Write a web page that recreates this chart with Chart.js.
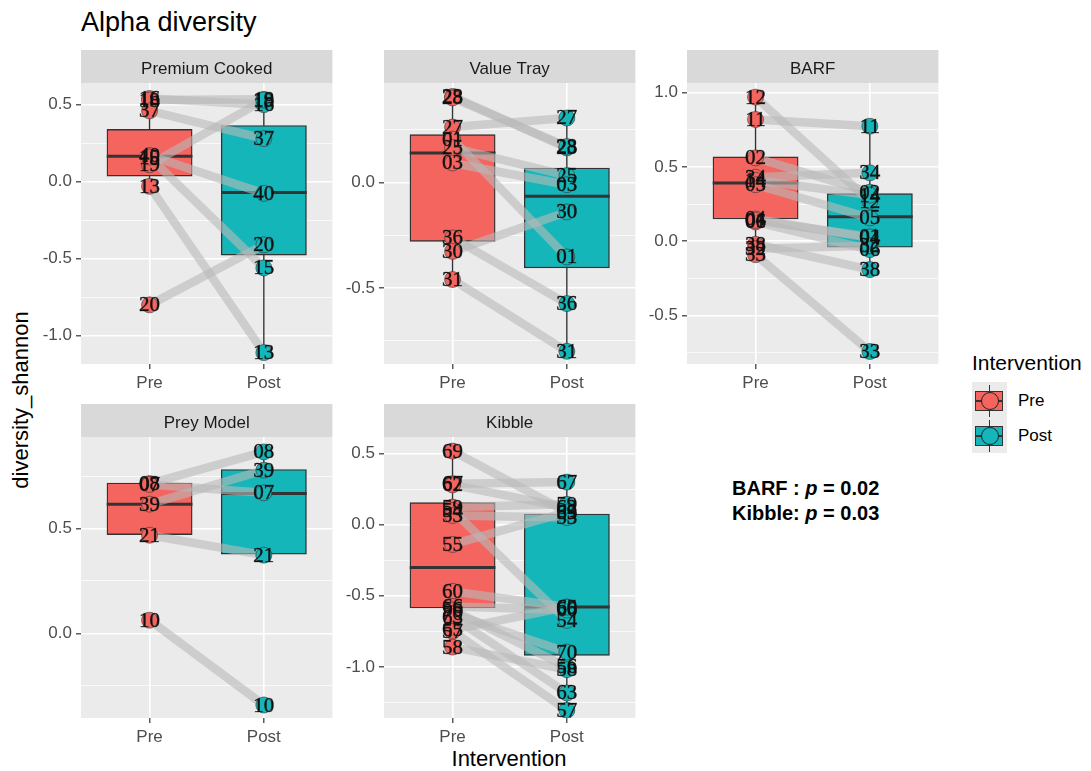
<!DOCTYPE html>
<html><head><meta charset="utf-8">
<script src="https://cdn.jsdelivr.net/npm/chart.js@4.4.1/dist/chart.umd.min.js"></script>
<style>
html,body{margin:0;padding:0;background:#fff;width:1091px;height:771px;overflow:hidden;position:relative;font-family:"Liberation Sans",Arial,sans-serif;}
canvas{position:absolute;}
.t{position:absolute;white-space:nowrap;line-height:1;}
.k{position:absolute;box-sizing:border-box;}
</style></head><body>
<div class="t" style="left:81px;top:9px;font-size:27px;color:#000">Alpha diversity</div>
<div class="t" style="left:21px;top:400px;font-size:22px;color:#000;transform:translate(-50%,-50%) rotate(-90deg)">diversity_shannon</div>
<div class="t" style="left:509px;top:748px;font-size:22px;color:#000;transform:translateX(-50%)">Intervention</div>
<div class="t" style="left:972px;top:352px;font-size:21px;color:#000">Intervention</div>
<div class="k" style="left:972px;top:382px;width:35px;height:71px;background:#EBEBEB"></div>
<div id="legendKeys"></div>
<div class="t" style="left:1018px;top:392px;font-size:17px;color:#000">Pre</div>
<div class="t" style="left:1018px;top:427px;font-size:17px;color:#000">Post</div>
<div class="t" style="left:732px;top:478px;font-size:20px;font-weight:bold;color:#000">BARF : <i>p</i> = 0.02</div>
<div class="t" style="left:732px;top:503px;font-size:20px;font-weight:bold;color:#000">Kibble: <i>p</i> = 0.03</div>
<script>
// ---------------- DATA ----------------
const facetNames = ['Premium Cooked', 'Value Tray', 'BARF', 'Prey Model', 'Kibble'];
const groups = ['Pre', 'Post'];

// Premium Cooked
const pcIds  = ['16', '18', '37', '19', '40', '15', '13', '20'];
const pcPre  = [0.54, 0.53, 0.46, 0.11, 0.17, 0.16, -0.03, -0.80];
const pcPost = [0.50, 0.535, 0.28, 0.53, -0.076, -0.56, -1.11, -0.41];
const pcBoxPre  = [-0.03, 0.036, 0.166, 0.34, 0.54];   // lower whisker, q1, median, q3, upper whisker
const pcBoxPost = [-1.11, -0.477, -0.07, 0.365, 0.535];
const pcTicks = [0.5, 0.0, -0.5, -1.0];

// Value Tray
const vtIds  = ['23', '28', '27', '01', '25', '03', '36', '30', '31'];
const vtPre  = [0.407, 0.40, 0.262, 0.205, 0.165, 0.092, -0.263, -0.327, -0.46];
const vtPost = [0.163, 0.17, 0.305, -0.353, 0.032, -0.011, -0.574, -0.14, -0.80];
const vtBoxPre  = [-0.46, -0.279, 0.139, 0.226, 0.407];
const vtBoxPost = [-0.80, -0.405, -0.066, 0.068, 0.305];
const vtTicks = [0.0, -0.5];

// BARF
const barfIds  = ['12', '11', '02', '34', '14', '05', '04', '06', '01', '38', '32', '33'];
const barfPre  = [0.968, 0.818, 0.56, 0.43, 0.41, 0.38, 0.15, 0.13, 0.14, -0.02, -0.05, -0.09];
const barfPost = [0.27, 0.773, 0.33, 0.46, 0.31, 0.157, 0.023, -0.056, 0.03, -0.19, -0.03, -0.74];
const barfBoxPre  = [-0.09, 0.15, 0.392, 0.567, 0.968];
const barfBoxPost = [-0.19, -0.04, 0.164, 0.32, 0.773];
const barfTicks = [1.0, 0.5, 0.0, -0.5];

// Prey Model
const preyIds  = ['08', '07', '39', '21', '10'];
const preyPre  = [0.714, 0.71, 0.616, 0.468, 0.063];
const preyPost = [0.865, 0.67, 0.778, 0.373, -0.341];
const preyBoxPre  = [0.468, 0.471, 0.616, 0.717, 0.717];
const preyBoxPost = [0.373, 0.378, 0.667, 0.781, 0.865];
const preyTicks = [0.5, 0.0];

// Kibble
const kibIds  = ['69', '67', '62', '59', '54', '53', '55', '60', '66', '56', '70', '63', '65', '57', '58'];
const kibPre  = [0.518, 0.288, 0.28, 0.124, 0.10, 0.065, -0.139, -0.469, -0.575, -0.60, -0.626, -0.65, -0.738, -0.75, -0.861];
const kibPost = [0.089, 0.30, 0.12, 0.143, -0.673, 0.05, 0.089, -0.579, -0.60, -1.0, -0.896, -1.184, -0.58, -1.306, -1.02];
const kibBoxPre  = [-0.861, -0.586, -0.302, 0.155, 0.518];
const kibBoxPost = [-1.306, -0.919, -0.579, 0.075, 0.30];
const kibTicks = [0.5, 0.0, -0.5, -1.0];

// ---------------- STYLE / LAYOUT ----------------
const PRE_COL = '#F5655F', POST_COL = '#14B6BA';
const Y_AXIS_W = 60, X_AXIS_H = 32, STRIP_H = 33, PLOT_H = 281, PANEL_W = 250, RIGHT_EXTRA = 10;
const FONT = '"Liberation Sans", Arial, sans-serif';

const panels = [
  {name: facetNames[0], ids: pcIds,   pre: pcPre,   post: pcPost,   bPre: pcBoxPre,   bPost: pcBoxPost,   ticks: pcTicks,   left: 81,  top: 50,  ymin: -1.184, ymax: 0.641},
  {name: facetNames[1], ids: vtIds,   pre: vtPre,   post: vtPost,   bPre: vtBoxPre,   bPost: vtBoxPost,   ticks: vtTicks,   left: 384, top: 50,  ymin: -0.86,  ymax: 0.4706},
  {name: facetNames[2], ids: barfIds, pre: barfPre, post: barfPost, bPre: barfBoxPre, bPost: barfBoxPost, ticks: barfTicks, left: 687, top: 50,  ymin: -0.824, ymax: 1.063},
  {name: facetNames[3], ids: preyIds, pre: preyPre, post: preyPost, bPre: preyBoxPre, bPost: preyBoxPost, ticks: preyTicks, left: 81,  top: 404, ymin: -0.403, ymax: 0.936},
  {name: facetNames[4], ids: kibIds,  pre: kibPre,  post: kibPost,  bPre: kibBoxPre,  bPost: kibBoxPost,  ticks: kibTicks,  left: 384, top: 404, ymin: -1.36,  ymax: 0.617}
];

const panelDeco = {
  id: 'panelDeco',
  beforeDraw(chart, args, opts) {
    const {ctx, chartArea: a} = chart;
    ctx.save();
    ctx.fillStyle = '#EBEBEB';
    ctx.fillRect(a.left, a.top, a.right - a.left, a.bottom - a.top);
    ctx.fillStyle = '#D9D9D9';
    ctx.fillRect(a.left, a.top - STRIP_H, a.right - a.left, STRIP_H);
    ctx.fillStyle = '#1A1A1A';
    ctx.font = '17px ' + FONT;
    ctx.textAlign = 'center';
    ctx.textBaseline = 'alphabetic';
    ctx.fillText(opts.label, (a.left + a.right) / 2, a.top - STRIP_H + 24);
    ctx.restore();
  },
  afterDatasetsDraw(chart) {
    const ctx = chart.ctx;
    ctx.save();
    ctx.font = '21px "Liberation Serif", "Times New Roman", serif';
    ctx.fillStyle = '#111111';
    ctx.strokeStyle = 'rgba(17,17,17,0.6)';
    ctx.lineWidth = 0.6;
    ctx.textAlign = 'center';
    ctx.textBaseline = 'middle';
    chart.data.datasets.forEach((ds, i) => {
      if (!ds.idLabels) return;
      const meta = chart.getDatasetMeta(i);
      meta.data.forEach((el, j) => { ctx.fillText(ds.idLabels[j], el.x, el.y + 1); ctx.strokeText(ds.idLabels[j], el.x, el.y + 1); });
    });
    ctx.restore();
  }
};

function makePanel(p) {
  const cv = document.createElement('canvas');
  const W = Y_AXIS_W + PANEL_W + RIGHT_EXTRA, H = STRIP_H + PLOT_H + X_AXIS_H;
  cv.width = W; cv.height = H;
  cv.style.left = (p.left - Y_AXIS_W) + 'px';
  cv.style.top = p.top + 'px';
  cv.style.width = W + 'px'; cv.style.height = H + 'px';
  document.body.appendChild(cv);

  const majors = p.ticks.slice();
  const all = new Set();
  majors.forEach(t => { [t - 0.25, t, t + 0.25].forEach(v => { if (v >= p.ymin && v <= p.ymax) all.add(Math.round(v * 100) / 100); }); });
  const yVals = Array.from(all).sort((a, b) => a - b);
  const isMajor = v => majors.some(m => Math.abs(m - v) < 1e-6);

  const boxW = 0.75 * PANEL_W / 2.2;
  const bp = p.bPre, bq = p.bPost;
  const whisk = [{x: 1, y: bp[0]}, {x: 1, y: bp[4]}, {x: 1.5, y: null}, {x: 2, y: bq[0]}, {x: 2, y: bq[4]}];
  const med = [{x: 0.625, y: bp[2]}, {x: 1.375, y: bp[2]}, {x: 1.5, y: null}, {x: 1.625, y: bq[2]}, {x: 2.375, y: bq[2]}];

  const datasets = [
    {type: 'line', data: whisk, borderColor: '#333333', borderWidth: 1.4, pointRadius: 0, spanGaps: false, order: 10},
    {type: 'bar', data: [{x: 1, y: [bp[1], bp[3]]}, {x: 2, y: [bq[1], bq[3]]}],
     backgroundColor: [PRE_COL, POST_COL], borderColor: '#333333', borderWidth: 1.4, borderSkipped: false,
     barThickness: boxW, order: 9},
    {type: 'line', data: med, borderColor: '#333333', borderWidth: 3, pointRadius: 0, spanGaps: false, order: 8}
  ];
  p.ids.forEach((id, k) => {
    datasets.push({type: 'line', data: [{x: 1, y: p.pre[k]}, {x: 2, y: p.post[k]}],
      borderColor: 'rgba(185,185,185,0.6)', borderWidth: 8.5, pointRadius: 0, borderCapStyle: 'butt', order: 7});
  });
  datasets.push({
    type: 'scatter',
    data: p.pre.map(v => ({x: 1, y: v})).concat(p.post.map(v => ({x: 2, y: v}))),
    pointBackgroundColor: p.pre.map(() => PRE_COL).concat(p.post.map(() => POST_COL)),
    pointBorderColor: '#333333', pointBorderWidth: 0.6, pointRadius: 8,
    idLabels: p.ids.concat(p.ids), order: 6
  });

  new Chart(cv, {
    type: 'scatter',
    data: {datasets},
    plugins: [panelDeco],
    options: {
      responsive: false, animation: false, devicePixelRatio: 1, events: [],
      layout: {padding: {top: STRIP_H, left: 0, right: 0, bottom: 0}},
      plugins: {legend: {display: false}, tooltip: {enabled: false}, panelDeco: {label: p.name}},
      scales: {
        x: {
          type: 'linear', min: 0.4, max: 2.6, offset: false,
          afterBuildTicks: s => { s.ticks = [{value: 1}, {value: 2}]; },
          afterFit: s => { s.height = X_AXIS_H; },
          ticks: {callback: v => v === 1 ? groups[0] : (v === 2 ? groups[1] : ''), color: '#4D4D4D',
                  font: {size: 17, family: FONT}, padding: 4, autoSkip: false, maxRotation: 0},
          grid: {offset: false, color: '#FFFFFF', lineWidth: 1.6, tickColor: '#333333', tickLength: 5, tickWidth: 1.2},
          border: {display: false}
        },
        y: {
          type: 'linear', min: p.ymin, max: p.ymax, offset: false, beginAtZero: false,
          afterBuildTicks: s => { s.ticks = yVals.map(v => ({value: v})); },
          afterFit: s => { s.width = Y_AXIS_W; },
          ticks: {callback: v => isMajor(v) ? v.toFixed(1) : '', color: '#4D4D4D',
                  font: {size: 17, family: FONT}, padding: 4, autoSkip: false},
          grid: {offset: false, color: '#FFFFFF',
                 lineWidth: c => (c.tick && isMajor(c.tick.value)) ? 1.6 : 0.7,
                 tickColor: c => (c.tick && isMajor(c.tick.value)) ? '#333333' : 'rgba(0,0,0,0)',
                 tickLength: 5, tickWidth: 1.2},
          border: {display: false}
        }
      }
    }
  });
}
panels.forEach(makePanel);

// legend keys (decoration)
(function () {
  const host = document.getElementById('legendKeys');
  [[PRE_COL, 400.5], [POST_COL, 436]].forEach(([col, cy]) => {
    host.insertAdjacentHTML('beforeend',
      `<div class="k" style="left:988.8px;top:${cy - 16}px;width:1.4px;height:32px;background:#333"></div>` +
      `<div class="k" style="left:975px;top:${cy - 10}px;width:28px;height:20px;background:${col};border:1.3px solid #333"></div>` +
      `<div class="k" style="left:975px;top:${cy - 1}px;width:28px;height:2px;background:#333"></div>` +
      `<div class="k" style="left:980.5px;top:${cy - 9}px;width:18px;height:18px;border-radius:50%;background:${col};border:1px solid #222"></div>`);
  });
})();
</script>
</body></html>
